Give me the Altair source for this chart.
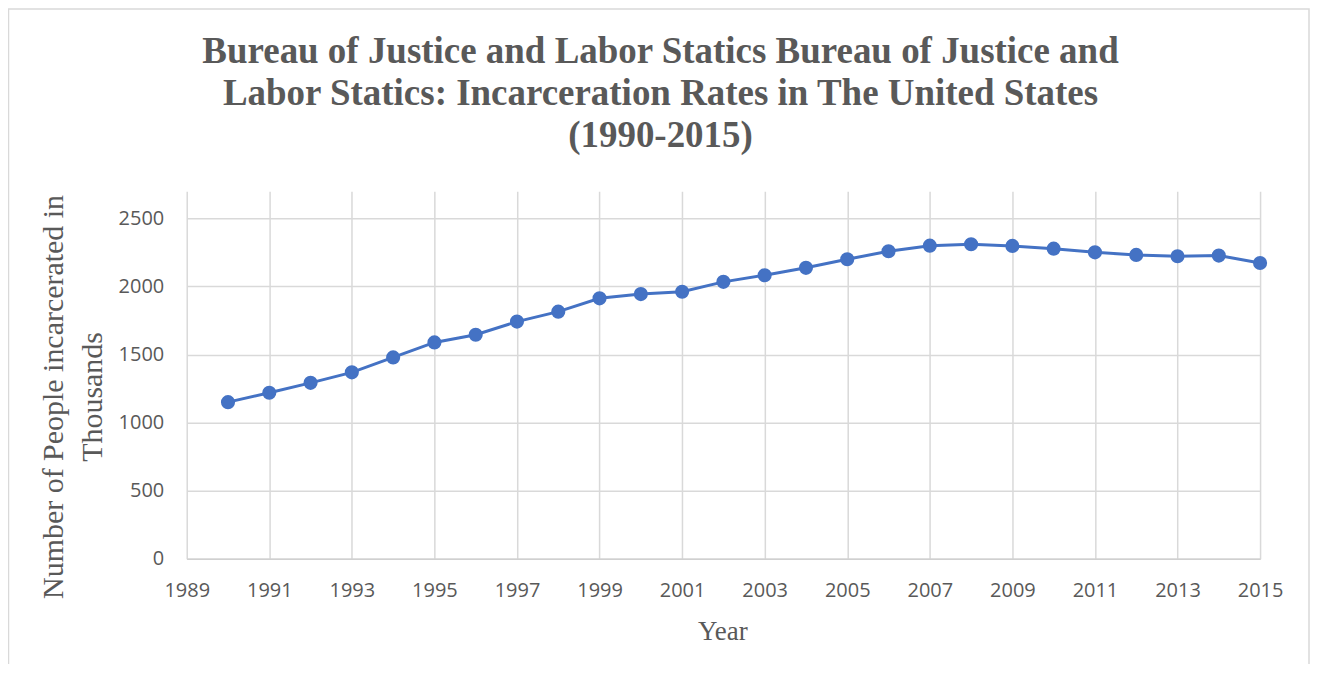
import altair as alt
import pandas as pd

years = [1990, 1991, 1992, 1993, 1994, 1995, 1996, 1997, 1998, 1999, 2000, 2001, 2002,
         2003, 2004, 2005, 2006, 2007, 2008, 2009, 2010, 2011, 2012, 2013, 2014, 2015]
inmates = [1150, 1219, 1292, 1369, 1479, 1589, 1645, 1742, 1815, 1913, 1944, 1961, 2034,
           2083, 2137, 2200, 2259, 2300, 2310, 2298, 2278, 2251, 2232, 2222, 2227, 2173]
x_ticks = [1989, 1991, 1993, 1995, 1997, 1999, 2001, 2003, 2005, 2007, 2009, 2011, 2013, 2015]
y_ticks = [0, 500, 1000, 1500, 2000, 2500]
title_lines = ["Bureau of Justice and Labor Statics Bureau of Justice and",
               "Labor Statics: Incarceration Rates in The United States",
               "(1990-2015)"]
y_title = ["Number of People incarcerated in", "\u00a0" * 6 + "Thousands"]
x_title = "Year"

df = pd.DataFrame({"Year": years, "Value": inmates})

GRAY = "#595959"
GRID = "#d9d9d9"
BLUE = "#4472C4"

x_enc = alt.X(
    "Year:Q",
    scale=alt.Scale(domain=[1989, 2015], nice=False, zero=False),
    axis=alt.Axis(
        values=x_ticks, format="d", title=x_title,
        titleFont="Liberation Serif", titleFontSize=27, titleFontWeight="normal",
        titleColor=GRAY, titleX=536.5, titleY=81, titleBaseline="alphabetic",
        titleAlign="center",
        labelFont="Open Sans", labelFontSize=20, labelColor=GRAY, labelPadding=22,
        labelFlush=False, labelOverlap=False,
        ticks=False, tickSize=0, grid=True, gridColor=GRID, gridWidth=1.5,
        domainColor="#d0d0d0", domainWidth=1.5,
    ),
)
y_enc = alt.Y(
    "Value:Q",
    scale=alt.Scale(domain=[0, 2700], nice=False),
    axis=alt.Axis(
        values=y_ticks, format="d", title=y_title,
        titleFont="Liberation Serif", titleFontSize=30, titleFontWeight="normal",
        titleColor=GRAY, titleX=-124.5, titleY=205.5, titleAngle=270,
        titleBaseline="alphabetic", titleAlign="center", titleLineHeight=39,
        labelFont="Open Sans", labelFontSize=20, labelColor=GRAY, labelPadding=23,
        ticks=False, tickSize=0, domain=False, grid=True, gridColor=GRID, gridWidth=1.5,
    ),
)

base = alt.Chart(df)
line = base.mark_line(color=BLUE, strokeWidth=3).encode(x=x_enc, y=y_enc)
points = base.mark_circle(color=BLUE, size=200, opacity=1).encode(x="Year:Q", y="Value:Q")

one = pd.DataFrame({"k": [0]})
border = alt.Chart(one).mark_rect(fillOpacity=0, stroke=GRID, strokeWidth=1.5).encode(
    x=alt.value(-178.5), x2=alt.value(1124), y=alt.value(-182.5), y2=alt.value(600)
)
title = alt.Chart(one).mark_text(
    text=title_lines, font="Liberation Serif", fontSize=37, fontWeight="bold",
    color=GRAY, align="center", baseline="alphabetic", lineHeight=42,
).encode(x=alt.value(474.5), y=alt.value(-128))

chart = alt.layer(border, line, points, title).properties(
    width=1075, height=368,
    autosize=alt.AutoSizeParams(type="none"),
    padding={"left": 179, "top": 183, "right": 50, "bottom": 105},
).configure_view(strokeWidth=0)

chart.save("out.html", embed_options={"renderer": "svg", "actions": False})
